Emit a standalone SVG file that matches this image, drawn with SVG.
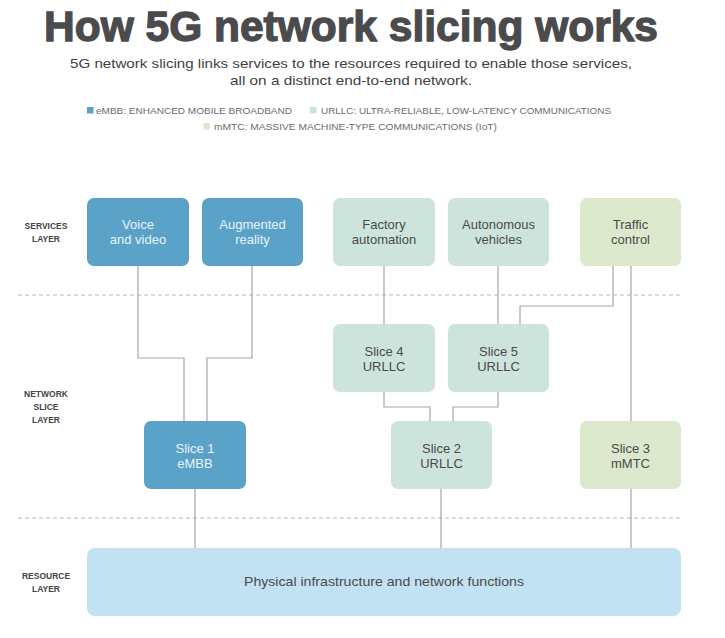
<svg xmlns="http://www.w3.org/2000/svg" width="725" height="638" viewBox="0 0 725 638">
<style>
text{font-family:"Liberation Sans",Arial,sans-serif}
.title{font-size:43px;font-weight:bold;fill:#4b4b4d;stroke:#4b4b4d;stroke-width:1.3}
.sub{font-size:13px;fill:#3f3f3f;text-anchor:middle}
.leg{font-size:9px;fill:#6c6c6c}
.lay{font-size:8.5px;font-weight:bold;fill:#444;text-anchor:middle}
.embb{fill:#5aa2c8}
.urllc{fill:#cde4dd}
.mmtc{fill:#dce8cc}
.res{fill:#c2e1f2}
.tw{font-size:13px;fill:#eaf3f8;text-anchor:middle}
.td{font-size:13px;fill:#4a4a4a;text-anchor:middle}
.conn{fill:none;stroke:#a6a6a6;stroke-width:1.2}
.dash{stroke:#b4b4b4;stroke-width:1;stroke-dasharray:4 3}
</style>
<text class="title" x="44" y="41" textLength="614" lengthAdjust="spacingAndGlyphs">How 5G network slicing works</text>
<text class="sub" x="351" y="68" textLength="562" lengthAdjust="spacingAndGlyphs">5G network slicing links services to the resources required to enable those services,</text>
<text class="sub" x="351" y="85" textLength="242" lengthAdjust="spacingAndGlyphs">all on a distinct end-to-end network.</text>
<g id="legend">
<rect class="embb" x="87" y="107" width="6.5" height="6.5"/>
<text class="leg" x="96" y="114" textLength="196" lengthAdjust="spacingAndGlyphs">eMBB: ENHANCED MOBILE BROADBAND</text>
<rect class="urllc" x="310" y="107" width="6.5" height="6.5"/>
<text class="leg" x="321" y="114" textLength="290" lengthAdjust="spacingAndGlyphs">URLLC: ULTRA-RELIABLE, LOW-LATENCY COMMUNICATIONS</text>
<rect class="mmtc" x="203.5" y="123" width="6.5" height="6.5"/>
<text class="leg" x="214" y="130" textLength="283" lengthAdjust="spacingAndGlyphs">mMTC: MASSIVE MACHINE-TYPE COMMUNICATIONS (IoT)</text>
</g>
<g id="layer-labels">
<text class="lay" x="46" y="229">SERVICES</text>
<text class="lay" x="46" y="242">LAYER</text>
<text class="lay" x="46" y="397">NETWORK</text>
<text class="lay" x="46" y="410">SLICE</text>
<text class="lay" x="46" y="423">LAYER</text>
<text class="lay" x="46" y="579">RESOURCE</text>
<text class="lay" x="46" y="592">LAYER</text>
</g>
<g id="dividers">
<line class="dash" x1="18" y1="295" x2="681" y2="295"/>
<line class="dash" x1="18" y1="518" x2="681" y2="518"/>
</g>
<g id="connectors">
<polyline class="conn" points="138,266 138,358 184,358 184,421"/>
<polyline class="conn" points="252,266 252,358 207,358 207,421"/>
<polyline class="conn" points="384,266 384,324"/>
<polyline class="conn" points="498,266 498,324"/>
<polyline class="conn" points="613,266 613,306 520,306 520,324"/>
<polyline class="conn" points="631,266 631,421"/>
<polyline class="conn" points="384,392 384,407 430,407 430,421"/>
<polyline class="conn" points="498,392 498,407 453,407 453,421"/>
<polyline class="conn" points="195,489 195,548"/>
<polyline class="conn" points="441,489 441,548"/>
<polyline class="conn" points="631,489 631,548"/>
</g>
<g id="voice">
<rect class="embb" x="87" y="198" width="102" height="68" rx="7"/>
<text class="tw" x="138" y="229">Voice</text>
<text class="tw" x="138" y="244">and video</text>
</g>
<g id="ar">
<rect class="embb" x="202" y="198" width="101" height="68" rx="7"/>
<text class="tw" x="252.5" y="229">Augmented</text>
<text class="tw" x="252.5" y="244">reality</text>
</g>
<g id="factory">
<rect class="urllc" x="333" y="198" width="102" height="68" rx="7"/>
<text class="td" x="384" y="229">Factory</text>
<text class="td" x="384" y="244">automation</text>
</g>
<g id="autonomous">
<rect class="urllc" x="448" y="198" width="101" height="68" rx="7"/>
<text class="td" x="498.5" y="229">Autonomous</text>
<text class="td" x="498.5" y="244">vehicles</text>
</g>
<g id="traffic">
<rect class="mmtc" x="580" y="198" width="101" height="68" rx="7"/>
<text class="td" x="630.5" y="229">Traffic</text>
<text class="td" x="630.5" y="244">control</text>
</g>
<g id="slice4">
<rect class="urllc" x="333" y="324" width="102" height="68" rx="7"/>
<text class="td" x="384" y="356">Slice 4</text>
<text class="td" x="384" y="371">URLLC</text>
</g>
<g id="slice5">
<rect class="urllc" x="448" y="324" width="101" height="68" rx="7"/>
<text class="td" x="498.5" y="356">Slice 5</text>
<text class="td" x="498.5" y="371">URLLC</text>
</g>
<g id="slice1">
<rect class="embb" x="144" y="421" width="102" height="68" rx="7"/>
<text class="tw" x="195" y="453">Slice 1</text>
<text class="tw" x="195" y="468">eMBB</text>
</g>
<g id="slice2">
<rect class="urllc" x="391" y="421" width="101" height="68" rx="7"/>
<text class="td" x="441.5" y="453">Slice 2</text>
<text class="td" x="441.5" y="468">URLLC</text>
</g>
<g id="slice3">
<rect class="mmtc" x="580" y="421" width="101" height="68" rx="7"/>
<text class="td" x="630.5" y="453">Slice 3</text>
<text class="td" x="630.5" y="468">mMTC</text>
</g>
<g id="resource">
<rect class="res" x="87" y="548" width="594" height="68" rx="8"/>
<text class="td" x="384" y="586" textLength="280" lengthAdjust="spacingAndGlyphs">Physical infrastructure and network functions</text>
</g>
</svg>
